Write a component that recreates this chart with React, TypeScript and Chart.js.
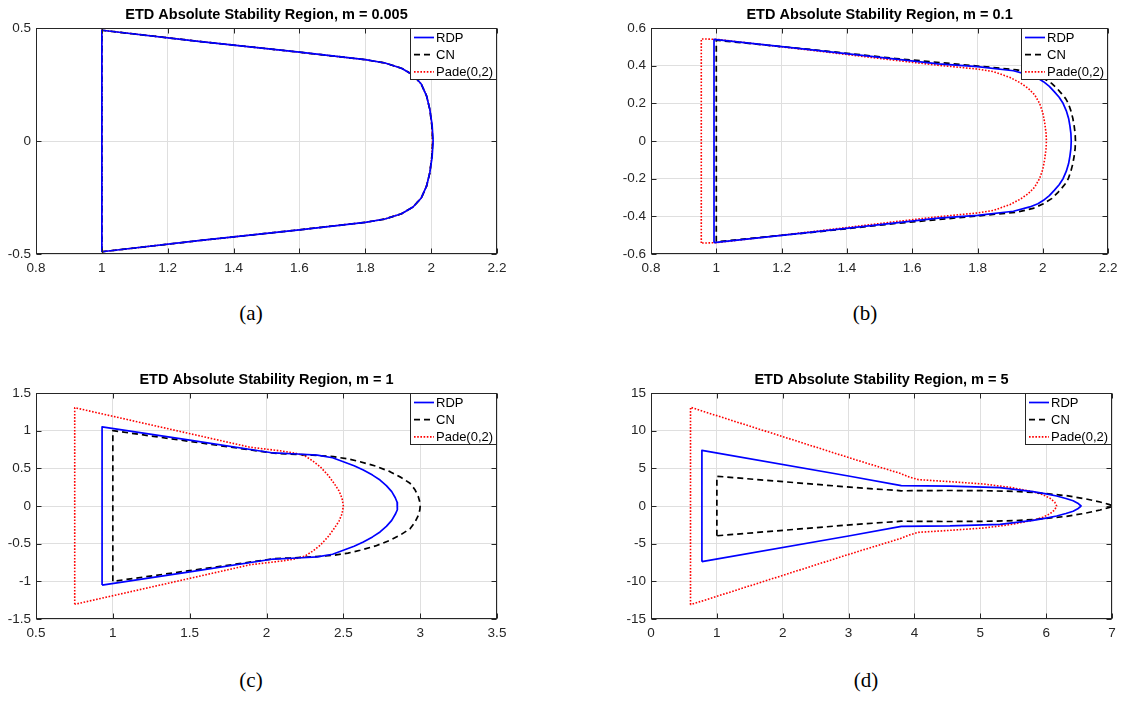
import React, { useEffect, useRef } from 'react';
import { Chart, registerables } from 'chart.js';

Chart.register(...registerables);

// ---------------- DATA ----------------
const seriesLabels = ['RDP', 'CN', 'Pade(0,2)'];
const captions = ['(a)', '(b)', '(c)', '(d)'];
const titles = [
  'ETD Absolute Stability Region, m = 0.005',
  'ETD Absolute Stability Region, m = 0.1',
  'ETD Absolute Stability Region, m = 1',
  'ETD Absolute Stability Region, m = 5',
];

// panel (a) m = 0.005
const xTicksA = [0.8, 1, 1.2, 1.4, 1.6, 1.8, 2, 2.2];
const yTicksA = [-0.5, 0, 0.5];
const rdpAX = [1, 1, 1.3, 1.6, 1.72, 1.8, 1.86, 1.91, 1.945, 1.97, 1.986, 1.996, 2.003, 2.006, 2.003, 1.996, 1.986, 1.97, 1.945, 1.91, 1.86, 1.8, 1.72, 1.6, 1.3, 1];
const rdpAY = [-0.49, 0.49, 0.44, 0.393, 0.373, 0.36, 0.345, 0.322, 0.292, 0.252, 0.2, 0.14, 0.07, 0, -0.07, -0.14, -0.2, -0.252, -0.292, -0.322, -0.345, -0.36, -0.373, -0.393, -0.44, -0.49];
const cnAX = [1, 1, 1.3, 1.6, 1.72, 1.8, 1.86, 1.91, 1.945, 1.97, 1.986, 1.996, 2.002, 2.005, 2.002, 1.996, 1.986, 1.97, 1.945, 1.91, 1.86, 1.8, 1.72, 1.6, 1.3, 1];
const cnAY = [-0.49, 0.49, 0.44, 0.393, 0.373, 0.36, 0.345, 0.322, 0.292, 0.252, 0.2, 0.14, 0.07, 0, -0.07, -0.14, -0.2, -0.252, -0.292, -0.322, -0.345, -0.36, -0.373, -0.393, -0.44, -0.49];
const padeAX = [1, 1, 1.3, 1.6, 1.72, 1.8, 1.86, 1.91, 1.945, 1.97, 1.986, 1.996, 2.002, 2.004, 2.002, 1.996, 1.986, 1.97, 1.945, 1.91, 1.86, 1.8, 1.72, 1.6, 1.3, 1];
const padeAY = [-0.49, 0.49, 0.44, 0.393, 0.373, 0.36, 0.345, 0.322, 0.292, 0.252, 0.2, 0.14, 0.07, 0, -0.07, -0.14, -0.2, -0.252, -0.292, -0.322, -0.345, -0.36, -0.373, -0.393, -0.44, -0.49];

// panel (b) m = 0.1
const xTicksB = [0.8, 1, 1.2, 1.4, 1.6, 1.8, 2, 2.2];
const yTicksB = [-0.6, -0.4, -0.2, 0, 0.2, 0.4, 0.6];
const rdpBX = [0.993, 0.993, 1.3, 1.55, 1.68, 1.8, 1.91, 1.96, 1.985, 2.002, 2.02, 2.035, 2.05, 2.062, 2.072, 2.079, 2.083, 2.086, 2.087, 2.086, 2.083, 2.079, 2.072, 2.062, 2.05, 2.035, 2.02, 2.002, 1.985, 1.96, 1.91, 1.8, 1.68, 1.55, 1.3, 0.993];
const rdpBY = [-0.54, 0.54, 0.483, 0.435, 0.41, 0.395, 0.373, 0.35, 0.333, 0.315, 0.29, 0.262, 0.232, 0.2, 0.16, 0.12, 0.08, 0.04, 0, -0.04, -0.08, -0.12, -0.16, -0.2, -0.232, -0.262, -0.29, -0.315, -0.333, -0.35, -0.373, -0.395, -0.41, -0.435, -0.483, -0.54];
const cnBX = [1, 1, 1.3, 1.55, 1.8, 1.92, 1.97, 2.0, 2.027, 2.045, 2.058, 2.07, 2.078, 2.086, 2.092, 2.096, 2.099, 2.1, 2.099, 2.096, 2.092, 2.086, 2.078, 2.07, 2.058, 2.045, 2.027, 2.0, 1.97, 1.92, 1.8, 1.55, 1.3, 1];
const cnBY = [-0.535, 0.535, 0.484, 0.438, 0.398, 0.378, 0.358, 0.335, 0.306, 0.276, 0.25, 0.225, 0.2, 0.16, 0.12, 0.08, 0.04, 0, -0.04, -0.08, -0.12, -0.16, -0.2, -0.225, -0.25, -0.276, -0.306, -0.335, -0.358, -0.378, -0.398, -0.438, -0.484, -0.535];
const padeBX = [0.954, 0.954, 1.0, 1.3, 1.55, 1.68, 1.8, 1.85, 1.9, 1.93, 1.955, 1.975, 1.99, 2.0, 2.006, 2.01, 2.011, 2.01, 2.006, 2.0, 1.99, 1.975, 1.955, 1.93, 1.9, 1.85, 1.8, 1.68, 1.55, 1.3, 1.0, 0.954];
const padeBY = [-0.542, 0.542, 0.54, 0.48, 0.428, 0.402, 0.382, 0.368, 0.337, 0.31, 0.28, 0.245, 0.2, 0.15, 0.094, 0.04, 0, -0.04, -0.094, -0.15, -0.2, -0.245, -0.28, -0.31, -0.337, -0.368, -0.382, -0.402, -0.428, -0.48, -0.54, -0.542];

// panel (c) m = 1
const xTicksC = [0.5, 1, 1.5, 2, 2.5, 3, 3.5];
const yTicksC = [-1.5, -1, -0.5, 0, 0.5, 1, 1.5];
const rdpCX = [0.93, 0.93, 1.5, 2.044, 2.2, 2.33, 2.43, 2.5, 2.57, 2.63, 2.69, 2.739, 2.78, 2.815, 2.838, 2.85, 2.853, 2.85, 2.838, 2.815, 2.78, 2.739, 2.69, 2.63, 2.57, 2.5, 2.43, 2.33, 2.2, 2.044, 1.5, 0.93];
const rdpCY = [-1.05, 1.05, 0.875, 0.704, 0.69, 0.675, 0.64, 0.588, 0.535, 0.478, 0.41, 0.345, 0.27, 0.19, 0.11, 0.05, 0, -0.05, -0.11, -0.19, -0.27, -0.345, -0.41, -0.478, -0.535, -0.588, -0.64, -0.675, -0.69, -0.704, -0.875, -1.05];
const cnCX = [1, 1, 1.5, 2.05, 2.153, 2.3, 2.435, 2.53, 2.609, 2.71, 2.804, 2.875, 2.934, 2.965, 2.988, 2.998, 3.0, 2.998, 2.988, 2.965, 2.934, 2.875, 2.804, 2.71, 2.609, 2.53, 2.435, 2.3, 2.153, 2.05, 1.5, 1];
const cnCY = [-1, 1, 0.858, 0.7, 0.69, 0.675, 0.655, 0.625, 0.588, 0.53, 0.456, 0.38, 0.301, 0.22, 0.124, 0.05, 0, -0.05, -0.124, -0.22, -0.301, -0.38, -0.456, -0.53, -0.588, -0.625, -0.655, -0.675, -0.69, -0.7, -0.858, -1];
const padeCX = [0.752, 0.752, 1.3, 1.893, 2.1, 2.19, 2.25, 2.3, 2.35, 2.4, 2.44, 2.472, 2.492, 2.5, 2.492, 2.472, 2.44, 2.4, 2.35, 2.3, 2.25, 2.19, 2.1, 1.893, 1.3, 0.752];
const padeCY = [-1.305, 1.305, 1.053, 0.78, 0.73, 0.7, 0.665, 0.6, 0.52, 0.41, 0.3, 0.2, 0.1, 0, -0.1, -0.2, -0.3, -0.41, -0.52, -0.6, -0.665, -0.7, -0.73, -0.78, -1.053, -1.305];

// panel (d) m = 5
const xTicksD = [0, 1, 2, 3, 4, 5, 6, 7];
const yTicksD = [-15, -10, -5, 0, 5, 10, 15];
const rdpDX = [0.773, 0.773, 3.02, 3.8, 4.54, 5.3, 5.8, 6.0, 6.16, 6.3, 6.41, 6.48, 6.53, 6.48, 6.41, 6.3, 6.16, 6.0, 5.8, 5.3, 4.54, 3.8, 3.02, 0.773];
const rdpDY = [-7.39, 7.39, 3.95, 2.7, 2.65, 2.45, 1.9, 1.6, 1.33, 1.0, 0.7, 0.38, 0, -0.38, -0.7, -1.0, -1.33, -1.6, -1.9, -2.45, -2.65, -2.7, -3.95, -7.39];
const cnDX = [1, 1, 3.02, 3.8, 4.5, 5.05, 5.5, 5.8, 6.31, 6.6, 6.82, 6.95, 7.02, 6.95, 6.82, 6.6, 6.31, 5.8, 5.5, 5.05, 4.5, 3.8, 3.02, 1];
const cnDY = [-3.95, 3.95, 2.5, 2.02, 2.06, 2.03, 1.95, 1.81, 1.37, 0.95, 0.53, 0.22, 0, -0.22, -0.53, -0.95, -1.37, -1.81, -1.95, -2.03, -2.06, -2.02, -2.5, -3.95];
const padeDX = [0.6, 0.6, 3.12, 3.78, 3.92, 4.06, 4.54, 5.05, 5.45, 5.8, 5.95, 6.06, 6.13, 6.16, 6.13, 6.06, 5.95, 5.8, 5.45, 5.05, 4.54, 4.06, 3.92, 3.78, 3.12, 0.6];
const padeDY = [-13.1, 13.1, 6.1, 4.34, 3.85, 3.5, 3.23, 2.92, 2.48, 1.9, 1.5, 1.02, 0.5, 0, -0.5, -1.02, -1.5, -1.9, -2.48, -2.92, -3.23, -3.5, -3.85, -4.34, -6.1, -13.1];

// ---------------- STYLE / LAYOUT ----------------
const FONT = '"Liberation Sans", Arial, Helvetica, sans-serif';
const AXIS_COLOR = '#262626';
const GRID_COLOR = '#dfdfdf';
const seriesStyles = [
  { color: '#0000ff', dash: [] as number[], width: 1.7 },
  { color: '#000000', dash: [6, 4], width: 1.7 },
  { color: '#ff0000', dash: [1.6, 1.6], width: 1.6 },
];

const pts = (xs: number[], ys: number[]) => xs.map((x, i) => ({ x, y: ys[i] }));

const framePlugin = {
  id: 'matlabFrame',
  afterDatasetsDraw(chart: any) {
    const { ctx, chartArea } = chart;
    const { left, right, top, bottom } = chartArea;
    const xs = chart.scales.x;
    const ys = chart.scales.y;
    ctx.save();
    ctx.strokeStyle = AXIS_COLOR;
    ctx.lineWidth = 1;
    ctx.setLineDash([]);
    ctx.beginPath();
    const L = Math.round(left) + 0.5, R = Math.round(right) - 0.5;
    const T = Math.round(top) + 0.5, B = Math.round(bottom) - 0.5;
    for (const t of xs.ticks) {
      const p = Math.round(xs.getPixelForValue(t.value)) + 0.5;
      ctx.moveTo(p, B); ctx.lineTo(p, B - 5);
      ctx.moveTo(p, T); ctx.lineTo(p, T + 5);
    }
    for (const t of ys.ticks) {
      const p = Math.round(ys.getPixelForValue(t.value)) + 0.5;
      ctx.moveTo(L, p); ctx.lineTo(L + 5, p);
      ctx.moveTo(R, p); ctx.lineTo(R - 5, p);
    }
    ctx.stroke();
    ctx.strokeRect(L, T, R - L, B - T);
    ctx.restore();
  },
  afterDraw(chart: any) {
    const { ctx, chartArea } = chart;
    const w = 87, h = 52;
    const x0 = Math.round(chartArea.right) - w;
    const y0 = Math.round(chartArea.top);
    ctx.save();
    ctx.fillStyle = '#ffffff';
    ctx.fillRect(x0, y0, w, h);
    ctx.strokeStyle = AXIS_COLOR;
    ctx.lineWidth = 1;
    ctx.setLineDash([]);
    ctx.strokeRect(x0 + 0.5, y0 + 0.5, w - 1, h - 1);
    chart.data.datasets.forEach((ds: any, i: number) => {
      const cy = y0 + 9.5 + i * 17.2;
      ctx.beginPath();
      ctx.setLineDash(ds.borderDash || []);
      ctx.strokeStyle = ds.borderColor;
      ctx.lineWidth = ds.borderWidth;
      ctx.moveTo(x0 + 4, cy);
      ctx.lineTo(x0 + 24, cy);
      ctx.stroke();
      ctx.setLineDash([]);
      ctx.fillStyle = '#000000';
      ctx.font = `13px ${FONT}`;
      ctx.textBaseline = 'middle';
      ctx.textAlign = 'left';
      ctx.fillText(ds.label, x0 + 26, cy + 0.5);
    });
    ctx.restore();
  },
};

type PanelProps = {
  title: string;
  xTicks: number[];
  yTicks: number[];
  series: { x: number[]; y: number[] }[];
  left: number;
  top: number;
  width: number;
  height: number;
  yAxisWidth: number;
  padRight: number;
};

function Panel(p: PanelProps) {
  const ref = useRef<HTMLCanvasElement | null>(null);
  useEffect(() => {
    if (!ref.current) return;
    const xMin = p.xTicks[0], xMax = p.xTicks[p.xTicks.length - 1];
    const yMin = p.yTicks[0], yMax = p.yTicks[p.yTicks.length - 1];
    const tickFont = { family: FONT, size: 13.5, lineHeight: 1.2 };
    const chart = new Chart(ref.current, {
      type: 'scatter',
      data: {
        datasets: p.series.map((s, i) => ({
          label: seriesLabels[i],
          data: pts(s.x, s.y),
          showLine: true,
          borderColor: seriesStyles[i].color,
          backgroundColor: seriesStyles[i].color,
          borderDash: seriesStyles[i].dash,
          borderWidth: seriesStyles[i].width,
          borderJoinStyle: 'round',
          pointRadius: 0,
          pointHoverRadius: 0,
          fill: false,
          tension: 0,
        })),
      },
      options: {
        animation: false,
        responsive: false,
        devicePixelRatio: 1,
        events: [],
        layout: { padding: { top: 0, left: 0, right: p.padRight, bottom: 0 } },
        plugins: {
          legend: { display: false },
          tooltip: { enabled: false },
          title: {
            display: true,
            text: p.title,
            fullSize: false,
            color: '#000000',
            font: { family: FONT, size: 14.5, weight: 'bold', lineHeight: 1.2 },
            padding: { top: 6.3, bottom: 4.3 },
          },
        },
        scales: {
          x: {
            type: 'linear',
            min: xMin,
            max: xMax,
            afterBuildTicks: (scale: any) => {
              scale.ticks = p.xTicks.map((v) => ({ value: v }));
            },
            afterFit: (scale: any) => {
              scale.height = 36;
            },
            ticks: {
              color: AXIS_COLOR,
              font: tickFont,
              padding: 6.5,
              maxRotation: 0,
              autoSkip: false,
              callback: (v: any) => String(Math.round(Number(v) * 1000) / 1000),
            },
            grid: { color: GRID_COLOR, lineWidth: 1, drawTicks: false },
            border: { display: false },
          },
          y: {
            type: 'linear',
            min: yMin,
            max: yMax,
            afterBuildTicks: (scale: any) => {
              scale.ticks = p.yTicks.map((v) => ({ value: v }));
            },
            afterFit: (scale: any) => {
              scale.width = p.yAxisWidth;
            },
            ticks: {
              color: AXIS_COLOR,
              font: tickFont,
              padding: 5,
              autoSkip: false,
              callback: (v: any) => String(Math.round(Number(v) * 1000) / 1000),
            },
            grid: { color: GRID_COLOR, lineWidth: 1, drawTicks: false },
            border: { display: false },
          },
        },
      },
      plugins: [framePlugin],
    } as any);
    return () => chart.destroy();
  }, []);
  return (
    <canvas
      ref={ref}
      width={p.width}
      height={p.height}
      style={{ position: 'absolute', left: p.left, top: p.top, width: p.width, height: p.height }}
    />
  );
}

const captionStyle = (cx: number, cy: number): React.CSSProperties => ({
  position: 'absolute',
  left: cx - 40,
  top: cy - 12,
  width: 80,
  height: 24,
  lineHeight: '24px',
  textAlign: 'center',
  fontFamily: '"Liberation Serif", "DejaVu Serif", serif',
  fontSize: 21,
  color: '#000',
});

export default function App() {
  const panels: PanelProps[] = [
    {
      title: titles[0], xTicks: xTicksA, yTicks: yTicksA,
      series: [{ x: rdpAX, y: rdpAY }, { x: cnAX, y: cnAY }, { x: padeAX, y: padeAY }],
      left: 0, top: 0, width: 560, height: 290, yAxisWidth: 36, padRight: 63,
    },
    {
      title: titles[1], xTicks: xTicksB, yTicks: yTicksB,
      series: [{ x: rdpBX, y: rdpBY }, { x: cnBX, y: cnBY }, { x: padeBX, y: padeBY }],
      left: 560, top: 0, width: 564, height: 290, yAxisWidth: 91, padRight: 12,
    },
    {
      title: titles[2], xTicks: xTicksC, yTicks: yTicksC,
      series: [{ x: rdpCX, y: rdpCY }, { x: cnCX, y: cnCY }, { x: padeCX, y: padeCY }],
      left: 0, top: 365, width: 560, height: 290, yAxisWidth: 36, padRight: 63,
    },
    {
      title: titles[3], xTicks: xTicksD, yTicks: yTicksD,
      series: [{ x: rdpDX, y: rdpDY }, { x: cnDX, y: cnDY }, { x: padeDX, y: padeDY }],
      left: 560, top: 365, width: 564, height: 290, yAxisWidth: 91, padRight: 12,
    },
  ];
  const capPos = [[251, 313], [865, 313], [251, 680], [866, 680]];
  return (
    <div style={{ position: 'fixed', left: 0, top: 0, width: 1124, height: 721, background: '#ffffff', overflow: 'hidden' }}>
      {panels.map((p, i) => (
        <Panel key={i} {...p} />
      ))}
      {captions.map((c, i) => (
        <div key={'c' + i} style={captionStyle(capPos[i][0], capPos[i][1])}>{c}</div>
      ))}
    </div>
  );
}
